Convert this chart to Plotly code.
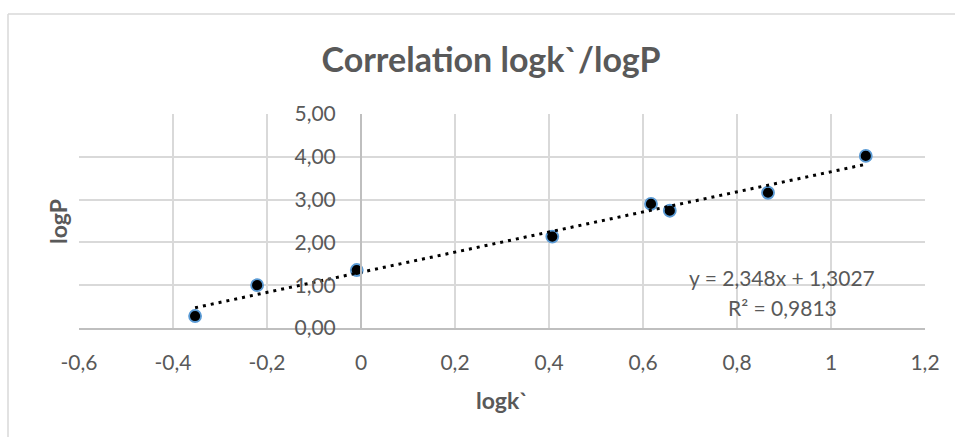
import plotly.graph_objects as go

# Measured retention (logk`) and lipophilicity (logP) values
logk = [-0.353, -0.221, -0.009, 0.407, 0.617, 0.657, 0.866, 1.074]
logP = [0.28, 1.00, 1.355, 2.135, 2.90, 2.74, 3.16, 4.02]

# Linear regression reported on the chart
slope = 2.348
intercept = 1.3027
r_squared = 0.9813

x_tick_vals = [-0.6, -0.4, -0.2, 0.0, 0.2, 0.4, 0.6, 0.8, 1.0, 1.2]
x_tick_text = ["-0,6", "-0,4", "-0,2", "0", "0,2", "0,4", "0,6", "0,8", "1", "1,2"]
y_tick_vals = [0, 1, 2, 3, 4, 5]
y_tick_text = ["0,00", "1,00", "2,00", "3,00", "4,00", "5,00"]

FONT = "Lato, 'Open Sans', sans-serif"
TEXT = "#595959"
GRID = "#D9D9D9"
AXIS = "#BFBFBF"

# Trendline spans the observed logk` range
x_lo, x_hi = min(logk), max(logk)
trend_x = [x_lo, x_hi]
trend_y = [slope * v + intercept for v in trend_x]

fig = go.Figure()
fig.add_trace(go.Scatter(
    x=logk, y=logP, mode="markers",
    marker=dict(size=12, color="black", line=dict(color="#5B9BD5", width=1.8)),
    showlegend=False, hoverinfo="x+y",
))
fig.add_trace(go.Scatter(
    x=trend_x, y=trend_y, mode="lines",
    line=dict(color="black", width=3, dash="3px,5px"),
    showlegend=False, hoverinfo="skip",
))

eq_text = f"y = {slope:.3f}x + {intercept:.4f}".replace(".", ",")
r2_text = f"R² = {r_squared:.4f}".replace(".", ",")

fig.update_layout(
    width=955, height=437,
    margin=dict(l=79, r=30, t=114, b=109),
    paper_bgcolor="white", plot_bgcolor="white",
    font=dict(family=FONT, color=TEXT, size=21),
    title=dict(
        text="<b>Correlation logk`/logP</b>",
        x=491 / 955, xref="container", xanchor="center",
        y=1 - 60 / 437, yref="container", yanchor="middle",
        font=dict(family=FONT, size=34, color=TEXT),
    ),
    xaxis=dict(
        range=[-0.6, 1.2], tickvals=x_tick_vals, ticktext=x_tick_text,
        showgrid=True, gridcolor=GRID, gridwidth=2,
        zeroline=False, showline=True, linecolor=AXIS, linewidth=2,
        ticks="", ticklabelstandoff=15,
        tickfont=dict(family=FONT, size=21, color=TEXT),
    ),
    yaxis=dict(
        range=[0, 5], tickvals=y_tick_vals, ticktext=y_tick_text,
        showgrid=True, gridcolor=GRID, gridwidth=2,
        zeroline=False, showline=True, linecolor=AXIS, linewidth=2,
        anchor="free", position=(0 - (-0.6)) / 1.8,
        ticks="", ticklabelstandoff=20,
        tickfont=dict(family=FONT, size=21, color=TEXT),
    ),
    annotations=[
        dict(text="<b>logk`</b>", x=0.5, xref="paper", y=-72 / 214, yref="paper",
             xanchor="center", yanchor="middle", showarrow=False,
             font=dict(family=FONT, size=23, color=TEXT)),
        dict(text="<b>logP</b>", x=(58 - 79) / 846, xref="paper", y=(328 - 222) / 214,
             yref="paper", xanchor="center", yanchor="middle", textangle=-90,
             showarrow=False, font=dict(family=FONT, size=23, color=TEXT)),
        dict(text=eq_text, x=0.896, y=1.185, xref="x", yref="y",
             xanchor="center", yanchor="middle", showarrow=False,
             font=dict(family=FONT, size=21, color=TEXT)),
        dict(text=r2_text, x=0.896, y=0.484, xref="x", yref="y",
             xanchor="center", yanchor="middle", showarrow=False,
             font=dict(family=FONT, size=21, color=TEXT)),
    ],
    shapes=[
        # chart-area frame (left and top edges)
        dict(type="line", xref="paper", yref="paper",
             x0=(8 - 79) / 846, x1=(8 - 79) / 846, y0=(328 - 14) / 214, y1=-1,
             line=dict(color=GRID, width=1.5)),
        dict(type="line", xref="paper", yref="paper",
             x0=(8 - 79) / 846, x1=1.2, y0=(328 - 14) / 214, y1=(328 - 14) / 214,
             line=dict(color=GRID, width=1.5)),
    ],
)

fig.write_html("out.html")
